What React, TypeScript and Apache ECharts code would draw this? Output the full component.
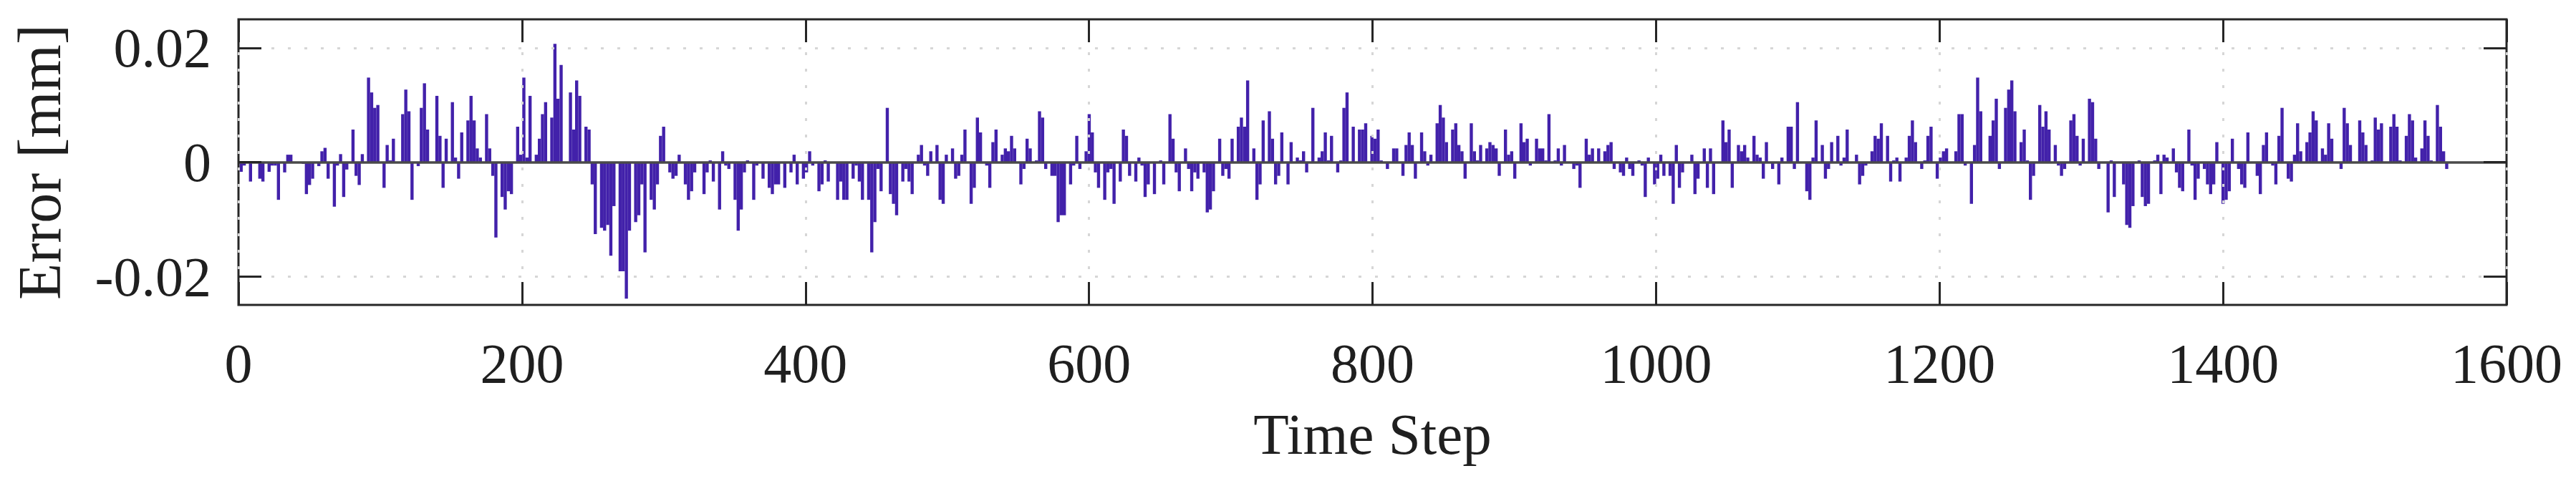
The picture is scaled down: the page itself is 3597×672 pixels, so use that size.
import React, { useEffect, useRef } from "react";
import * as echarts from "echarts";

// Time-step position of the first bar and spacing between consecutive bars
const STEP_START = 1.9;
const STEP_SPACING = 2.1914;

// Error values [mm], one per bar, in order of time step
const err000 = [
  -0.0017, -0.0006, 0, -0.0034, 0, 0, -0.0029, -0.0034, 0, -0.0017,
  -0.0006, -0.0006, -0.0066, 0, -0.0018, 0.0013, 0.0013, 0, 0, 0,
  -0.0003, -0.0056, -0.004, -0.0029, 0, -0.0007, 0.0019, 0.0025, -0.0029, 0,
  -0.0078, -0.0006, 0.0014, -0.0061, -0.0013, 0, 0.0057, -0.0024, -0.004, 0.0014,
  0, 0.0148, 0.0122, 0.0095, 0.01, 0, -0.0045, 0.003, 0.0003, 0.0041,
  0, 0, 0.0084, 0.0127, 0.0089, -0.0066, 0, -0.0007, 0.0095, 0.0138,
  0.0057, 0, 0, 0.0116, 0.0046, -0.0045, 0.0041, 0, 0.0105, 0.0008,
  -0.0029, 0.0052, 0, 0.0073, 0.0116, 0.0073, 0.0024, 0.0008, 0, 0.0084,
  0.0024, -0.0024, -0.0132, 0, -0.0061, -0.0083, -0.0051, -0.0056, 0, 0.0062,
  0.0013, 0.0148, 0.0008, 0.0116, 0, 0.0013, 0.0041, 0.0084, 0.0105, 0,
];
const err100 = [
  0.0078, 0.0207, 0.0111, 0.017, 0, 0, 0.0122, 0.0057, 0.0143, 0.0116,
  0, 0.0062, 0.0057, -0.0039, -0.0126, 0, -0.0115, -0.012, -0.011, -0.0164,
  -0.0077, 0, -0.0191, -0.0191, -0.0239, -0.012, 0, -0.0105, -0.0093, -0.0039,
  -0.0158, 0, -0.0066, -0.0083, -0.0039, 0.0046, 0.0062, 0, -0.0018, -0.0029,
  -0.0024, 0.0013, 0, -0.0039, -0.0066, -0.0051, -0.0018, 0, 0, -0.0056,
  -0.0018, 0.0003, -0.0034, 0, -0.0083, 0.0019, -0.0006, -0.0012, 0, -0.0066,
  -0.012, -0.0083, -0.0018, 0.0003, 0, -0.0066, -0.0006, 0, -0.0029, 0,
  -0.0045, -0.0056, -0.0039, -0.0039, 0, -0.0045, 0, -0.0018, 0.0013, -0.0039,
  0, -0.0029, -0.0018, 0.0019, -0.0006, 0, -0.0051, -0.0039, 0.0003, -0.0034,
  0, 0, -0.0066, -0.0034, -0.0066, -0.0066, 0, -0.0029, -0.0006, -0.0034,
];
const err200 = [
  -0.0066, 0, -0.0066, -0.0158, -0.0105, -0.0012, -0.0051, 0, 0.0095, -0.0056,
  -0.0073, -0.0093, 0, -0.0034, -0.0012, -0.0034, -0.0056, 0, 0.0013, 0.003,
  -0.0006, -0.0024, 0.0019, 0, 0.003, -0.0066, -0.0073, 0.0013, 0, 0.0024,
  -0.0029, -0.0024, 0.0013, 0.0057, 0, -0.0073, -0.0045, 0.0078, 0.0052, 0,
  -0.0006, -0.0045, 0.0035, 0.0057, 0, 0.0013, 0.0024, 0.0019, 0.0046, 0.0024,
  0, -0.0039, -0.0012, 0.0041, 0.0024, 0, 0.0003, 0.0089, 0.0078, -0.0012,
  0, -0.0024, -0.0024, -0.0105, -0.0093, -0.0093, 0, -0.0039, -0.0006, 0.0046,
  -0.0012, 0, 0.0019, 0.0084, 0.0052, -0.0018, -0.0045, 0, -0.0066, -0.0018,
  -0.0012, -0.0073, 0, -0.0034, 0.0057, 0.0046, -0.0024, 0, -0.0034, 0.0008,
  -0.0006, -0.0061, -0.0039, 0, -0.0056, 0, 0.0003, -0.0039, 0, 0.0084,
];
const err300 = [
  0.0041, -0.0018, -0.0051, 0, 0.0024, -0.0012, -0.0051, -0.0018, -0.0029, 0,
  -0.0018, -0.0088, -0.0083, -0.0051, 0, 0.0041, -0.0024, -0.0012, -0.0029, 0.0041,
  0, 0.0062, 0.0078, 0.0062, 0.0143, 0, 0.0024, -0.0066, -0.0039, 0.0073,
  0, 0.0089, 0.0041, -0.0039, -0.0024, 0.0052, 0, -0.0039, 0.0035, 0,
  0.0008, 0.0003, 0.0019, -0.0018, 0, 0.0095, 0, 0.0008, 0.0019, 0.0052,
  0.0003, 0.0046, 0, -0.0018, 0.0003, 0.0095, 0.0122, 0, 0.0062, 0,
  0.0057, 0.0057, 0.0068, 0, 0.0046, 0.0041, 0.0057, 0.0003, 0, -0.0012,
  0, 0.0024, 0.0024, 0, -0.0024, 0.003, 0.0052, 0.003, -0.0029, 0,
  0.0052, 0.0019, -0.0006, 0.0013, 0, 0.0068, 0.01, 0.0078, 0.0035, 0,
  0.0057, 0.0068, 0.003, 0.0019, -0.0029, 0, 0.0068, 0.0019, 0.0003, 0.003,
];
const err400 = [
  0, 0.0024, 0.0035, 0.003, 0.0024, -0.0024, 0, 0.0057, 0.0013, 0.0019,
  -0.0029, 0, 0.0068, 0.0035, 0.0041, -0.0006, 0, 0.0041, 0.0024, 0.0024,
  0.0003, 0.0084, 0, 0.0003, 0.0024, -0.0006, 0.003, 0, 0, -0.0012,
  -0.0006, -0.0045, 0, 0.0041, 0.0013, 0.0024, 0, 0.0024, 0, 0.0019,
  0.003, 0.0035, -0.0012, 0, -0.0018, -0.0024, 0.0008, -0.0012, -0.0024, 0,
  0.0003, -0.0006, -0.0061, 0.0008, 0, -0.0039, -0.0029, 0.0013, -0.0024, 0,
  -0.0024, -0.0073, 0.003, -0.0045, -0.0018, 0, 0, 0.0013, -0.0056, -0.0029,
  0, 0.0024, -0.0045, 0.0024, -0.0056, 0, 0, 0.0073, 0.0035, 0.0057,
  -0.0045, 0, 0.003, 0.0019, 0.003, 0.0008, 0, 0.0046, 0.0013, 0.0008,
  -0.0029, 0.0035, 0, -0.0012, 0, -0.0039, 0.0008, 0, 0.0062, 0.0062,
];
const err500 = [
  -0.0012, 0.0105, 0, 0, -0.0051, -0.0066, 0.0008, 0.0073, 0, 0.003,
  -0.0029, -0.0012, 0.0035, 0, 0.0046, -0.0006, 0.0008, 0.0057, 0, 0,
  0.0013, -0.0039, -0.0024, -0.0006, 0, 0.0019, 0.0046, 0.0041, 0.0068, 0,
  0.0046, -0.0034, 0.0003, 0.0008, -0.0034, 0, 0.0008, 0.0046, 0.0073, 0.0035,
  0, -0.0012, 0.0003, 0.0046, 0.0062, 0, -0.0029, 0.0008, 0.0019, 0.0024,
  0, 0, 0.0019, 0.0084, 0.0084, -0.0006, 0, -0.0073, 0.003, 0.0148,
  0.0089, 0, 0, 0.0046, 0.0073, 0.0111, -0.0012, 0, 0.0095, 0.0127,
  0.0143, 0.0089, 0, 0.0035, 0.0057, 0.0003, -0.0066, -0.0024, 0, 0.01,
  0.0062, 0.0089, 0.0057, 0, 0.003, -0.0006, -0.0024, -0.0012, 0, 0.0073,
  0.0084, 0.0046, -0.0006, 0.0041, 0, 0.0111, 0.0105, 0.0041, -0.0012, 0,
];
const err600 = [
  0, -0.0088, 0.0003, -0.0061, 0, 0, -0.0039, -0.011, -0.0115, -0.0077,
  0, 0.0003, -0.0061, -0.0077, -0.0073, 0, 0.0003, 0.0013, -0.0056, 0.0013,
  0.0008, 0, 0.0024, -0.0018, -0.0045, -0.0051, 0, 0.0057, -0.0006, -0.0066,
  -0.0029, 0, -0.0012, -0.0039, -0.0056, -0.0039, 0.0035, 0, -0.0073, -0.0066,
  -0.0051, 0.0041, 0, -0.0012, -0.0039, -0.0045, 0.0052, 0, 0, -0.0024,
  -0.0056, 0.003, 0.0052, 0, -0.0006, -0.0039, 0.0046, 0.0095, 0, -0.0029,
  -0.0034, 0.0013, 0.0068, 0.0019, 0, 0.0035, 0.0052, 0.0089, 0.0073, 0,
  0.0024, 0.0013, 0.0068, 0.0041, 0, 0, -0.0012, 0.0095, 0.0068, 0.003,
  0, 0, 0.0073, 0.0052, 0.003, 0, 0.0003, 0.0078, 0.0057, 0.0068,
  0, 0, 0.0062, 0.0084, 0.0062, 0.0003, 0, 0.0046, 0.0084, 0.0073,
  0.0008, 0, 0.0024, 0.0073, 0.0046, 0.0003, 0, 0.01, 0.0062, 0.0019, -0.0012,
];

const X_MIN = 0;
const X_MAX = 1600;
const X_INTERVAL = 200;
const Y_MIN = -0.025;
const Y_MAX = 0.025;
const Y_TICKS = [-0.02, 0, 0.02];
const Y_GRID = [-0.02, 0.02];

const X_NAME = "Time Step";
const Y_NAME = "Error [mm]";

const FONT = '"Liberation Serif", "Times New Roman", Times, serif';
const TEXT_COLOR = "#1f1f1f";
const FRAME_COLOR = "#262626";
const BAR_COLOR = "#4221AA";
const GRID_COLOR = "#d6d6d6";

export default function App() {
  const ref = useRef<HTMLDivElement>(null);

  useEffect(() => {
    document.body.style.margin = "0";
    const errors = [...err000, ...err100, ...err200, ...err300, ...err400, ...err500, ...err600];
    const data = errors.map((v, i) => [STEP_START + i * STEP_SPACING, v]);

    const chart = echarts.init(ref.current!, null, { renderer: "svg" });
    const tick = {
      show: true,
      inside: true,
      length: 32,
      lineStyle: { color: FRAME_COLOR, width: 3 },
    };
    const hiddenLine = { show: false, onZero: false };
    chart.setOption({
      animation: false,
      backgroundColor: "#ffffff",
      grid: {
        left: 333,
        right: 97,
        top: 27,
        bottom: 246,
        show: true,
        borderColor: FRAME_COLOR,
        borderWidth: 3,
        backgroundColor: "transparent",
        z: 10,
      },
      xAxis: [
        {
          type: "value",
          min: X_MIN,
          max: X_MAX,
          interval: X_INTERVAL,
          position: "bottom",
          name: X_NAME,
          nameLocation: "middle",
          nameGap: 140,
          nameTextStyle: { fontFamily: FONT, fontSize: 81, color: TEXT_COLOR, lineHeight: 82 },
          axisLine: hiddenLine,
          axisTick: tick,
          axisLabel: {
            formatter: (v: number) => String(v),
            fontFamily: FONT,
            fontSize: 78,
            color: TEXT_COLOR,
            margin: 42,
            lineHeight: 78,
          },
          splitLine: { show: true, lineStyle: { color: GRID_COLOR, width: 3, type: [4, 19] } },
          z: 10,
        },
        {
          type: "value",
          min: X_MIN,
          max: X_MAX,
          interval: X_INTERVAL,
          position: "top",
          axisLine: hiddenLine,
          axisTick: tick,
          axisLabel: { show: false },
          splitLine: { show: false },
          z: 10,
        },
      ],
      yAxis: [
        {
          type: "value",
          min: Y_MIN,
          max: Y_MAX,
          position: "left",
          name: Y_NAME,
          nameLocation: "middle",
          nameRotate: 90,
          nameGap: 236,
          nameTextStyle: { fontFamily: FONT, fontSize: 84, color: TEXT_COLOR, lineHeight: 84 },
          axisLine: hiddenLine,
          axisTick: { ...tick, customValues: Y_TICKS },
          axisLabel: {
            customValues: Y_TICKS,
            formatter: (v: number) => (Math.abs(v) < 1e-9 ? "0" : v.toFixed(2)),
            fontFamily: FONT,
            fontSize: 78,
            color: TEXT_COLOR,
            margin: 38,
          },
          splitLine: { show: false },
          z: 10,
        },
        {
          type: "value",
          min: Y_MIN,
          max: Y_MAX,
          position: "right",
          axisLine: hiddenLine,
          axisTick: { ...tick, customValues: Y_TICKS },
          axisLabel: { show: false },
          splitLine: { show: false },
          z: 10,
        },
      ],
      series: [
        {
          type: "line",
          data: [],
          xAxisIndex: 0,
          yAxisIndex: 0,
          silent: true,
          z: 1,
          markLine: {
            silent: true,
            symbol: "none",
            label: { show: false },
            animation: false,
            data: [
              ...Y_GRID.map((y) => ({
                yAxis: y,
                lineStyle: { color: GRID_COLOR, width: 3, type: [4, 19] },
              })),
              { yAxis: 0, lineStyle: { color: "#4a4a4a", width: 3.5, type: "solid" } },
            ],
          },
        },
        {
          type: "bar",
          data,
          xAxisIndex: 0,
          yAxisIndex: 0,
          barWidth: 4.4,
          itemStyle: { color: BAR_COLOR },
          z: 2,
          silent: true,
        },
      ],
    });
    return () => chart.dispose();
  }, []);

  return (
    <div
      ref={ref}
      style={{ position: "fixed", left: 0, top: 0, width: 3597, height: 672, background: "#fff" }}
    />
  );
}
